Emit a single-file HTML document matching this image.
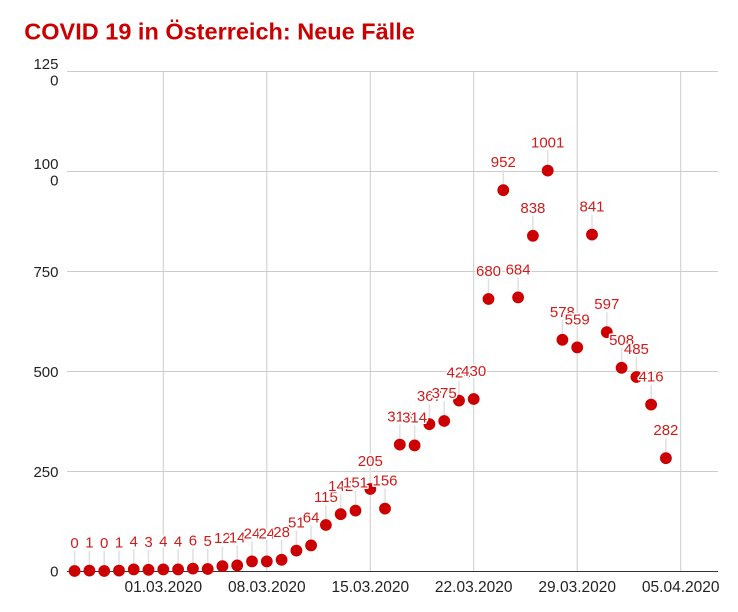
<!DOCTYPE html>
<html><head><meta charset="utf-8"><style>
html,body{margin:0;padding:0;background:#fff;}
svg{display:block;}
text{font-family:"Liberation Sans",Arial,sans-serif;}
.ax{font-size:15px;fill:#222;}
.xl{font-size:15.5px;fill:#222;}
.lb text{font-size:15px;fill:#d01b1b;text-anchor:middle;stroke:#fff;stroke-width:3px;paint-order:stroke;stroke-linejoin:round;}
</style></head><body>
<svg width="738" height="612" viewBox="0 0 738 612" xmlns="http://www.w3.org/2000/svg">
<rect width="738" height="612" fill="#fff"/>
<text x="24.3" y="39.3" font-weight="bold" fill="#cc0000" style="font-size:23.5px">COVID 19 in Österreich: Neue Fälle</text>
<g stroke="#cccccc" stroke-width="1">
<line x1="67" y1="71.5" x2="718" y2="71.5"/>
<line x1="67" y1="171.5" x2="718" y2="171.5"/>
<line x1="67" y1="271.5" x2="718" y2="271.5"/>
<line x1="67" y1="371.5" x2="718" y2="371.5"/>
<line x1="67" y1="471.5" x2="718" y2="471.5"/>
<line x1="163.3" y1="71.5" x2="163.3" y2="571"/>
<line x1="266.8" y1="71.5" x2="266.8" y2="571"/>
<line x1="370.3" y1="71.5" x2="370.3" y2="571"/>
<line x1="473.7" y1="71.5" x2="473.7" y2="571"/>
<line x1="577.2" y1="71.5" x2="577.2" y2="571"/>
<line x1="680.7" y1="71.5" x2="680.7" y2="571"/>
</g>
<line x1="67" y1="571.5" x2="718" y2="571.5" stroke="#333" stroke-width="1"/>
<g class="ax" text-anchor="end">
<text x="58.5" y="69">125</text><text x="58.5" y="85.5">0</text>
<text x="58.5" y="169">100</text><text x="58.5" y="185.5">0</text>
<text x="58.5" y="277">750</text>
<text x="58.5" y="377">500</text>
<text x="58.5" y="477">250</text>
<text x="58.5" y="576.5">0</text>
</g>
<g class="xl" text-anchor="middle">
<text x="163.3" y="592">01.03.2020</text>
<text x="266.8" y="592">08.03.2020</text>
<text x="370.3" y="592">15.03.2020</text>
<text x="473.7" y="592">22.03.2020</text>
<text x="577.2" y="592">29.03.2020</text>
<text x="680.7" y="592">05.04.2020</text>
</g>
<path stroke="#e0e0e0" stroke-width="1.5" fill="none" d="
M74.6 551V571 M89.4 550.6V570.6 M104.2 551V571 M119 550.6V570.6 M133.7 549.4V569.4
M148.5 549.8V569.8 M163.3 549.4V569.4 M178.1 549.4V569.4 M192.9 548.6V568.6 M207.7 549V569
M222.4 546.2V566.2 M237.2 545.4V565.4 M252 541.4V561.4 M266.8 541.4V561.4 M281.6 539.8V559.8
M296.4 530.6V550.6 M311.1 525.4V545.4 M325.9 505V525 M340.7 494.2V514.2 M355.5 490.6V510.6
M370.3 469V489 M385 488.6V508.6 M399.8 424.6V444.6 M414.6 425.4V445.4 M429.4 404.2V424.2
M444.2 401V421 M459 380.6V400.6 M473.7 379V399 M488.5 279V299 M503.3 170.2V190.2
M518.1 277.4V297.4 M532.9 215.8V235.8 M547.7 150.6V170.6 M562.4 319.8V339.8 M577.2 327.4V347.4
M592 214.6V234.6 M606.8 312.2V332.2 M621.6 347.8V367.8 M636.4 357V377 M651.1 384.6V404.6
M665.9 438.2V458.2"/>
<g fill="#cc0000">
<circle cx="74.6" cy="571" r="5.9"/><circle cx="89.4" cy="570.6" r="5.9"/><circle cx="104.2" cy="571" r="5.9"/><circle cx="119" cy="570.6" r="5.9"/><circle cx="133.7" cy="569.4" r="5.9"/>
<circle cx="148.5" cy="569.8" r="5.9"/><circle cx="163.3" cy="569.4" r="5.9"/><circle cx="178.1" cy="569.4" r="5.9"/><circle cx="192.9" cy="568.6" r="5.9"/><circle cx="207.7" cy="569" r="5.9"/>
<circle cx="222.4" cy="566.2" r="5.9"/><circle cx="237.2" cy="565.4" r="5.9"/><circle cx="252" cy="561.4" r="5.9"/><circle cx="266.8" cy="561.4" r="5.9"/><circle cx="281.6" cy="559.8" r="5.9"/>
<circle cx="296.4" cy="550.6" r="5.9"/><circle cx="311.1" cy="545.4" r="5.9"/><circle cx="325.9" cy="525" r="5.9"/><circle cx="340.7" cy="514.2" r="5.9"/><circle cx="355.5" cy="510.6" r="5.9"/>
<circle cx="370.3" cy="489" r="5.9"/><circle cx="385" cy="508.6" r="5.9"/><circle cx="399.8" cy="444.6" r="5.9"/><circle cx="414.6" cy="445.4" r="5.9"/><circle cx="429.4" cy="424.2" r="5.9"/>
<circle cx="444.2" cy="421" r="5.9"/><circle cx="459" cy="400.6" r="5.9"/><circle cx="473.7" cy="399" r="5.9"/><circle cx="488.5" cy="299" r="5.9"/><circle cx="503.3" cy="190.2" r="5.9"/>
<circle cx="518.1" cy="297.4" r="5.9"/><circle cx="532.9" cy="235.8" r="5.9"/><circle cx="547.7" cy="170.6" r="5.9"/><circle cx="562.4" cy="339.8" r="5.9"/><circle cx="577.2" cy="347.4" r="5.9"/>
<circle cx="592" cy="234.6" r="5.9"/><circle cx="606.8" cy="332.2" r="5.9"/><circle cx="621.6" cy="367.8" r="5.9"/><circle cx="636.4" cy="377" r="5.9"/><circle cx="651.1" cy="404.6" r="5.9"/>
<circle cx="665.9" cy="458.2" r="5.9"/>
</g>
<g class="lb">
<text x="74.6" y="548">0</text><text x="89.4" y="547.6">1</text><text x="104.2" y="548">0</text><text x="119" y="547.6">1</text><text x="133.7" y="546.4">4</text>
<text x="148.5" y="546.8">3</text><text x="163.3" y="546.4">4</text><text x="178.1" y="546.4">4</text><text x="192.9" y="545.6">6</text><text x="207.7" y="546">5</text>
<text x="222.4" y="543.2">12</text><text x="237.2" y="542.4">14</text><text x="252" y="538.4">24</text><text x="266.8" y="538.4">24</text><text x="281.6" y="536.8">28</text>
<text x="296.4" y="527.6">51</text><text x="311.1" y="522.4">64</text><text x="325.9" y="502">115</text><text x="340.7" y="491.2">142</text><text x="355.5" y="487.6">151</text>
<text x="370.3" y="466">205</text><text x="385" y="485.6">156</text><text x="399.8" y="421.6">316</text><text x="414.6" y="422.4">314</text><text x="429.4" y="401.2">367</text>
<text x="444.2" y="398">375</text><text x="459" y="377.6">426</text><text x="473.7" y="376">430</text><text x="488.5" y="276">680</text><text x="503.3" y="167.2">952</text>
<text x="518.1" y="274.4">684</text><text x="532.9" y="212.8">838</text><text x="547.7" y="147.6">1001</text><text x="562.4" y="316.8">578</text><text x="577.2" y="324.4">559</text>
<text x="592" y="211.6">841</text><text x="606.8" y="309.2">597</text><text x="621.6" y="344.8">508</text><text x="636.4" y="354">485</text><text x="651.1" y="381.6">416</text>
<text x="665.9" y="435.2">282</text>
</g>
</svg>
</body></html>
